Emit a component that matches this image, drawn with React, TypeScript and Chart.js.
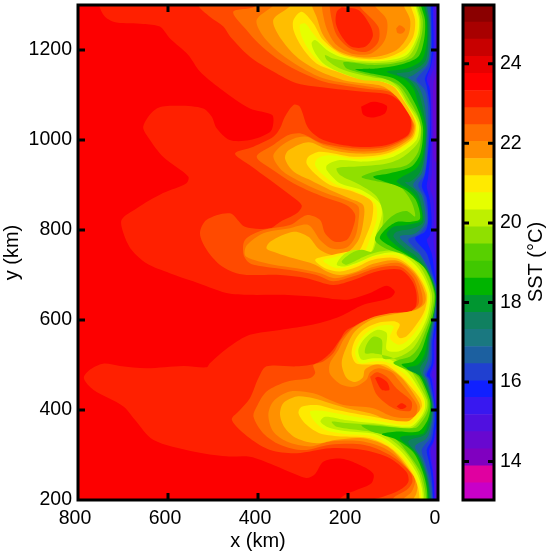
import React, { useEffect, useRef } from "react";
import { Chart, registerables } from "chart.js";

Chart.register(...registerables);

type P = number[];

const xTicksKm = { min: 0, max: 800, step: 200 };
const yTicksKm = { min: 200, max: 1300, step: 200 };

// contour outlines, [x km, y km]
const L0: P[] = [[-40,1340],[840,1340],[840,160],[-40,160]];
const C1: P[] = [[-40,1340],[753,1340],[753,1300],[740,1274],[714,1261],[655,1258],[618,1252],[596,1226],[555,1189],[529,1152],[485,1115],[418,1070],[369,1056],[366,1037],[373,1018],[418,1000],[463,1000],[492,1026],[503,1052],[522,1070],[574,1076],[625,1070],[655,1030],[640,1000],[611,963],[555,919],[559,904],[611,882],[670,848],[703,823],[699,793],[681,756],[648,726],[596,704],[544,686],[470,660],[418,656],[351,656],[277,652],[203,645],[151,660],[114,676],[96,663],[107,649],[166,634],[218,608],[277,590],[351,578],[418,567],[463,541],[507,504],[514,495],[566,498],[648,493],[707,498],[744,503],[773,490],[787,471],[766,445],[699,408],[674,379],[633,334],[544,308],[470,297],[418,296],[366,278],[314,256],[292,249],[273,258],[255,285],[218,292],[181,281],[144,259],[148,237],[181,222],[207,211],[230,190],[230,160],[-40,160]];
const C2: P[] = [[-40,1340],[533,1340],[533,1300],[507,1274],[477,1252],[462,1230],[418,1185],[366,1152],[314,1126],[240,1115],[166,1107],[107,1100],[73,1074],[62,1050],[60,1030],[68,1010],[114,989],[181,985],[255,1000],[288,1026],[307,1074],[321,1078],[340,1052],[351,1026],[366,1007],[410,985],[451,970],[418,944],[373,911],[333,881],[303,855],[314,837],[351,818],[373,804],[429,807],[462,837],[514,823],[529,793],[514,756],[485,723],[448,704],[418,700],[351,700],[292,693],[233,678],[188,689],[136,708],[85,712],[59,689],[48,660],[51,626],[77,612],[129,604],[166,593],[203,578],[218,556],[240,526],[270,504],[314,497],[381,497],[399,471],[418,426],[440,400],[458,378],[418,337],[373,311],[314,304],[240,315],[166,311],[107,293],[70,262],[66,240],[85,222],[122,207],[155,195],[160,160],[-40,160]];
const C3: P[] = [[-40,1340],[177,1340],[177,1302],[133,1252],[133,1218],[159,1196],[196,1204],[225,1233],[236,1267],[241,1302],[241,1340],[407,1340],[406,1298],[455,1285],[425,1244],[399,1215],[358,1181],[314,1155],[255,1130],[203,1120],[151,1113],[107,1107],[77,1082],[62,1055],[57,1032],[66,1009],[114,985],[181,981],[255,992],[303,1014],[332,1011],[366,989],[403,963],[366,933],[314,900],[255,874],[203,855],[184,833],[192,796],[203,778],[229,774],[251,793],[262,822],[292,833],[329,811],[388,800],[429,778],[432,745],[418,726],[388,719],[329,711],[270,700],[233,686],[188,697],[136,715],[85,719],[55,693],[44,660],[44,634],[70,615],[114,612],[166,597],[196,578],[218,553],[233,526],[255,508],[277,500],[273,482],[284,471],[336,463],[381,441],[403,407],[410,385],[388,348],[351,323],[299,311],[240,323],[166,323],[107,300],[62,262],[57,240],[70,222],[100,203],[115,160],[-40,160]];
const C4: P[] = [[-40,1340],[144,1340],[144,1304],[114,1267],[118,1222],[147,1193],[188,1191],[225,1211],[246,1244],[256,1281],[258,1304],[258,1340],[362,1340],[362,1304],[403,1267],[388,1230],[351,1193],[307,1163],[255,1137],[203,1126],[144,1117],[99,1107],[73,1074],[58,1045],[54,1030],[63,1007],[114,980],[181,975],[255,989],[292,1007],[321,1003],[351,985],[366,963],[344,930],[299,904],[247,881],[203,866],[177,852],[177,818],[184,785],[203,761],[236,759],[262,778],[288,811],[329,804],[388,793],[425,766],[429,744],[410,734],[366,723],[314,715],[262,704],[229,693],[188,703],[136,720],[85,726],[51,698],[36,660],[36,634],[62,619],[107,615],[151,604],[188,582],[210,556],[221,534],[240,504],[240,480],[214,456],[184,452],[159,467],[151,484],[133,493],[103,484],[88,467],[59,430],[46,408],[53,385],[99,385],[144,404],[210,411],[240,422],[277,437],[329,441],[366,419],[377,389],[366,352],[336,330],[284,319],[240,330],[166,330],[107,308],[56,256],[51,240],[59,218],[77,201],[85,160],[-40,160]];
const C5: P[] = [[-40,1340],[77,1340],[77,1302],[62,1267],[66,1233],[92,1200],[136,1185],[181,1185],[225,1200],[255,1233],[270,1274],[281,1302],[281,1340],[325,1340],[325,1302],[366,1267],[347,1222],[310,1181],[262,1152],[210,1133],[166,1126],[122,1119],[92,1096],[68,1062],[52,1032],[60,1005],[114,975],[181,970],[247,980],[288,995],[332,977],[340,959],[321,930],[284,911],[240,889],[196,870],[166,855],[166,818],[177,777],[203,748],[225,743],[247,748],[266,759],[288,785],[321,796],[373,774],[381,759],[358,749],[321,737],[273,723],[247,708],[218,700],[181,708],[144,725],[92,732],[51,704],[29,660],[29,638],[48,623],[99,613],[144,602],[184,575],[203,541],[214,504],[203,471],[184,462],[167,472],[162,490],[136,501],[99,486],[77,467],[48,426],[40,407],[51,378],[107,378],[151,393],[203,404],[240,415],[277,426],[314,430],[344,415],[351,389],[340,360],[314,337],[270,326],[225,334],[166,337],[107,315],[55,255],[46,237],[48,215],[55,200],[60,160],[-40,160]];
const C6: P[] = [[-40,1340],[62,1340],[62,1304],[51,1267],[55,1230],[77,1200],[122,1181],[173,1181],[218,1193],[255,1222],[277,1259],[303,1285],[321,1267],[321,1244],[303,1207],[270,1170],[225,1152],[181,1137],[136,1133],[99,1119],[77,1089],[57,1056],[49,1032],[57,1003],[114,970],[188,963],[262,974],[288,963],[292,948],[270,922],[240,900],[188,885],[147,863],[147,822],[162,781],[177,752],[196,752],[233,745],[273,734],[251,715],[218,708],[181,718],[144,734],[92,737],[51,708],[25,660],[29,623],[48,590],[70,564],[85,560],[92,571],[85,590],[99,597],[136,593],[166,578],[184,556],[192,526],[182,504],[151,501],[118,501],[85,478],[70,463],[40,426],[36,407],[49,389],[70,374],[144,385],[225,400],[270,411],[303,407],[310,393],[292,367],[262,348],[210,341],[151,337],[99,311],[59,263],[44,226],[40,184],[40,160],[-40,160]];
const C7: P[] = [[-40,1340],[56,1340],[56,1304],[46,1267],[49,1230],[73,1194],[122,1178],[173,1178],[218,1189],[258,1215],[281,1241],[295,1259],[307,1255],[303,1230],[284,1196],[255,1167],[210,1148],[166,1135],[129,1131],[96,1117],[73,1085],[54,1052],[46,1030],[54,1000],[107,968],[181,958],[240,966],[268,959],[273,944],[255,922],[225,900],[181,885],[140,859],[136,826],[151,781],[166,749],[192,752],[225,741],[255,732],[225,715],[184,723],[144,740],[92,743],[48,712],[22,660],[25,623],[44,582],[70,552],[88,545],[107,560],[99,586],[129,587],[159,571],[177,549],[184,526],[173,504],[144,508],[114,506],[77,482],[62,467],[34,426],[31,407],[44,385],[66,367],[144,378],[218,391],[255,398],[284,397],[277,378],[251,356],[203,346],[144,341],[92,311],[54,263],[40,226],[36,184],[36,160],[-40,160]];
const C8: P[] = [[-40,1340],[51,1340],[51,1304],[42,1267],[46,1230],[70,1189],[118,1176],[173,1176],[218,1185],[247,1200],[273,1222],[281,1215],[273,1193],[251,1167],[210,1147],[166,1133],[125,1130],[92,1115],[70,1081],[49,1048],[42,1028],[50,997],[99,963],[166,952],[221,955],[247,944],[247,933],[218,904],[170,889],[129,859],[125,833],[136,796],[151,748],[184,756],[210,745],[225,723],[207,719],[173,730],[136,745],[88,749],[44,715],[18,660],[22,615],[37,578],[62,545],[88,530],[114,534],[114,571],[136,578],[162,560],[177,534],[170,512],[144,515],[107,512],[70,486],[55,467],[31,426],[29,404],[40,382],[62,363],[144,371],[207,378],[251,385],[261,374],[240,360],[196,352],[136,345],[85,311],[49,263],[36,226],[33,184],[33,160],[-40,160]];
const C9: P[] = [[-40,1340],[47,1340],[48,1304],[39,1267],[42,1230],[66,1185],[114,1172],[181,1173],[233,1181],[251,1189],[247,1178],[218,1159],[181,1147],[144,1139],[114,1135],[88,1117],[66,1081],[46,1052],[38,1028],[44,995],[77,963],[114,948],[181,941],[225,937],[218,922],[173,900],[136,874],[122,837],[125,804],[136,778],[147,752],[170,756],[192,749],[214,730],[203,723],[166,740],[129,752],[85,752],[40,719],[14,660],[18,615],[33,575],[55,538],[85,519],[122,515],[125,556],[144,563],[159,545],[162,526],[144,526],[99,515],[62,489],[48,467],[25,422],[25,404],[36,382],[59,360],[136,367],[203,371],[236,374],[225,363],[181,356],[122,345],[77,311],[44,263],[33,226],[29,184],[29,160],[-40,160]];
const C10: P[] = [[-40,1340],[44,1340],[44,1304],[34,1267],[37,1230],[55,1185],[99,1170],[151,1167],[210,1173],[203,1159],[166,1148],[122,1137],[85,1120],[59,1081],[44,1052],[37,1022],[44,974],[70,944],[129,933],[170,918],[129,907],[85,896],[59,863],[51,830],[70,842],[99,833],[125,807],[140,778],[114,758],[77,746],[33,719],[9,660],[14,615],[29,571],[44,538],[62,519],[85,512],[99,504],[55,482],[40,467],[22,422],[22,400],[33,378],[51,360],[114,363],[170,366],[144,351],[99,339],[70,308],[39,263],[29,226],[25,184],[25,160],[-40,160]];
const C12: P[] = [[-40,1340],[40,1340],[39,1304],[29,1267],[31,1222],[44,1185],[85,1167],[136,1159],[184,1157],[144,1147],[99,1137],[73,1117],[51,1081],[39,1052],[33,1022],[39,971],[59,941],[107,926],[144,918],[99,901],[70,888],[49,866],[40,825],[62,818],[92,818],[118,800],[129,781],[99,760],[70,745],[29,715],[7,660],[10,615],[25,567],[36,534],[55,508],[81,501],[44,478],[36,467],[18,422],[18,396],[25,374],[44,352],[92,352],[125,346],[92,334],[55,306],[34,263],[25,226],[23,184],[23,160],[-40,160]];
const C13: P[] = [[-40,1340],[33,1340],[33,1304],[25,1267],[25,1218],[36,1178],[70,1159],[114,1152],[77,1137],[55,1115],[44,1081],[34,1052],[29,1022],[34,966],[48,937],[85,915],[92,907],[62,888],[44,866],[36,822],[70,811],[99,807],[114,789],[85,759],[62,744],[25,712],[5,660],[9,615],[22,564],[29,526],[44,501],[70,493],[36,475],[33,467],[16,419],[16,396],[22,371],[33,348],[77,342],[85,337],[49,304],[31,263],[23,226],[20,184],[20,160],[-40,160]];
const C14: P[] = [[-40,1340],[29,1340],[29,1304],[22,1267],[22,1215],[29,1174],[62,1152],[92,1147],[62,1133],[44,1107],[36,1081],[30,1052],[25,1022],[31,963],[40,929],[62,907],[73,906],[48,885],[39,863],[33,818],[55,804],[92,796],[99,785],[70,756],[51,744],[22,708],[5,660],[9,615],[20,560],[25,519],[40,493],[33,471],[29,467],[14,419],[14,393],[18,367],[29,345],[66,330],[44,300],[28,263],[20,226],[18,184],[18,160],[-40,160]];
const C16: P[] = [[-40,1340],[25,1340],[25,1304],[18,1259],[18,1211],[25,1170],[55,1144],[66,1139],[48,1126],[36,1104],[29,1074],[25,1022],[29,959],[36,926],[55,900],[36,876],[29,818],[51,792],[85,785],[55,756],[40,744],[18,704],[3,660],[7,615],[18,556],[22,512],[33,482],[25,467],[12,415],[12,389],[16,363],[25,337],[51,319],[36,293],[24,256],[18,226],[14,184],[14,160],[-40,160]];
const C17: P[] = [[-40,1340],[18,1340],[18,1304],[16,1259],[16,1207],[22,1167],[44,1141],[48,1133],[29,1111],[22,1074],[22,1022],[25,955],[31,922],[44,900],[31,874],[24,818],[40,793],[66,778],[40,748],[14,700],[2,660],[5,615],[15,556],[18,504],[29,478],[22,467],[10,411],[10,385],[13,360],[18,337],[36,311],[29,285],[20,256],[14,226],[12,184],[12,160],[-40,160]];
const C18: P[] = [[-40,1340],[14,1340],[15,1304],[14,1200],[18,1163],[29,1137],[25,1119],[18,1074],[18,1022],[24,955],[29,922],[36,898],[25,870],[22,818],[29,796],[51,781],[25,748],[10,696],[-1,660],[3,615],[12,556],[14,504],[25,478],[18,467],[8,411],[7,382],[10,356],[14,334],[25,311],[20,285],[14,249],[10,184],[10,160],[-40,160]];
const C19: P[] = [[-40,1340],[10,1340],[12,1304],[10,1200],[16,1163],[25,1135],[18,1111],[16,1022],[18,959],[22,918],[25,896],[18,866],[14,818],[18,789],[25,778],[14,748],[5,689],[-4,660],[-4,615],[9,556],[10,504],[18,478],[14,467],[6,411],[0,382],[7,352],[10,330],[20,311],[16,285],[10,249],[8,184],[8,160],[-40,160]];
const C20: P[] = [[-40,1340],[8,1340],[9,1304],[6,1215],[9,1163],[19,1133],[16,1104],[13,1022],[14,959],[14,922],[18,896],[10,866],[9,818],[10,781],[7,748],[-1,711],[-10,660],[-10,615],[5,556],[7,504],[14,478],[10,467],[3,411],[-10,382],[3,352],[9,330],[16,311],[13,285],[9,241],[6,184],[6,160],[-40,160]];
const C21a: P[] = [[-40,1190],[-4,1163],[10,1126],[10,1022],[9,959],[-4,937],[-4,892],[3,855],[-1,811],[-10,760],[-40,760]];
const C21b: P[] = [[-40,370],[-4,367],[5,307],[5,184],[5,160],[-40,160]];

// warm cores and small closed patches
const coreUpperEddy: P[] = [[214,1295],[177,1289],[151,1255],[145,1230],[162,1207],[192,1207],[214,1230],[227,1259],[225,1285],[214,1295]];
const spotTopRight: P[] = [[93,1248],[85,1255],[73,1246],[79,1237],[90,1238],[93,1248]];
const coreWarmLobe: P[] = [[171,1074],[144,1085],[114,1076],[118,1059],[147,1050],[166,1056],[171,1074]];
const ringLowerEddy: P[] = [[151,474],[136,434],[99,404],[62,398],[59,419],[92,448],[114,474],[136,484],[151,474]];
const coreLowerA: P[] = [[140,471],[125,445],[108,445],[114,463],[133,474],[140,471]];
const coreLowerB: P[] = [[92,408],[81,415],[70,408],[81,402],[92,408]];

// colour bar: edges and colours of its 29 bands, bottom to top
const barEdges = [13.03,13.46,13.89,14.32,14.75,15.18,15.61,16.03,16.46,16.89,17.32,17.75,18.18,18.61,19.04,19.47,19.9,20.33,20.76,21.19,21.62,22.05,22.47,22.9,23.33,23.76,24.19,24.62,25.05,25.48];
const barColors = ["#C800C8","#E000A0","#8000C0","#6808D0","#5010E0","#3818F0","#1020FF","#2040D0","#1C60A0","#1A7880","#108060","#009630","#00B400","#40C800","#58D000","#90E000","#BEF000","#E6FF00","#FFEA00","#FFBE00","#FF9000","#FF7000","#FF4A00","#FF2000","#FF0000","#E80000","#C80000","#A80000","#8B0000"];

// paint order, back to front
const layers: [P[], string][] = [
  [L0, "#FD0000"],
  [C1, "#FF2000"],
  [C2, "#FF4A00"],
  [C3, "#FF7000"],
  [C4, "#FF9000"],
  [C5, "#FFBE00"],
  [C6, "#FFEA00"],
  [C7, "#E6FF00"],
  [C8, "#BEF000"],
  [C9, "#90E000"],
  [C10, "#58D000"],
  [C12, "#00B400"],
  [C13, "#009630"],
  [C14, "#108060"],
  [C16, "#1C60A0"],
  [C17, "#2040D0"],
  [C18, "#1020FF"],
  [C19, "#3818F0"],
  [C20, "#5010E0"],
  [C21a, "#6808D0"],
  [C21b, "#6808D0"],
  [coreUpperEddy, "#FF2000"],
  [spotTopRight, "#FF7000"],
  [coreWarmLobe, "#FD0000"],
  [ringLowerEddy, "#FF4A00"],
  [coreLowerA, "#FF2000"],
  [coreLowerB, "#FF2000"],
];

const FONT = "'Liberation Sans', Arial, sans-serif";

const framePlugin = {
  id: "frame",
  afterDraw(chart: any, _a: any, opts: any) {
    const { ctx, chartArea: a, scales } = chart;
    ctx.save();
    ctx.strokeStyle = "#000";
    ctx.lineWidth = 3;
    ctx.strokeRect(a.left, a.top, a.right - a.left, a.bottom - a.top);
    const len = opts.tick;
    if (scales.x && opts.xTicks) {
      for (const t of scales.x.ticks) {
        const p = scales.x.getPixelForValue(t.value);
        if (p <= a.left + 2 || p >= a.right - 2) continue;
        ctx.beginPath();
        ctx.moveTo(p, a.bottom); ctx.lineTo(p, a.bottom - len);
        ctx.moveTo(p, a.top); ctx.lineTo(p, a.top + len);
        ctx.stroke();
      }
    }
    for (const t of scales.y.ticks) {
      const p = scales.y.getPixelForValue(t.value);
      if (p <= a.top + 2 || p >= a.bottom - 2) continue;
      ctx.beginPath();
      ctx.moveTo(a.left, p); ctx.lineTo(a.left + len, p);
      ctx.moveTo(a.right, p); ctx.lineTo(a.right - len, p);
      ctx.stroke();
    }
    if (opts.sideTitle) {
      ctx.fillStyle = "#000";
      ctx.font = `20px ${FONT}`;
      ctx.textAlign = "center";
      ctx.textBaseline = "middle";
      ctx.translate(opts.sideX, opts.sideY);
      ctx.rotate(-Math.PI / 2);
      ctx.fillText(opts.sideTitle, 0, 0);
    }
    ctx.restore();
  },
};

export default function App() {
  const mainRef = useRef<HTMLCanvasElement>(null);
  const barRef = useRef<HTMLCanvasElement>(null);

  useEffect(() => {
    const main = new Chart(mainRef.current!, {
      type: "scatter",
      data: {
        datasets: layers.slice().reverse().map(([pts, color]) => ({
          data: pts.map(([x, y]) => ({ x, y })),
          showLine: true,
          fill: "shape",
          backgroundColor: color,
          borderWidth: 0,
          pointRadius: 0,
          pointHoverRadius: 0,
          tension: 0.3,
          capBezierPoints: false,
        })),
      },
      options: {
        responsive: false,
        animation: false,
        events: [],
        layout: { padding: { left: 0, right: 7, top: 5, bottom: 0 } },
        plugins: {
          legend: { display: false },
          tooltip: { enabled: false },
          frame: { tick: 7, xTicks: true },
        } as any,
        scales: {
          x: {
            type: "linear",
            reverse: true,
            min: xTicksKm.min,
            max: xTicksKm.max,
            afterFit(s: any) { s.height = 53; s.paddingLeft = 0; s.paddingRight = 0; },
            grid: { display: false, drawTicks: false },
            border: { display: false },
            ticks: {
              stepSize: xTicksKm.step,
              includeBounds: false,
              autoSkip: false,
              maxRotation: 0,
              padding: 7,
              labelOffset: -3,
              color: "#000",
              font: { family: FONT, size: 19.5 },
              callback: (v: any) => String(v),
            },
            title: { display: true, text: "x (km)", color: "#000", font: { family: FONT, size: 20 }, padding: { top: 0, bottom: 0 } },
          },
          y: {
            type: "linear",
            min: yTicksKm.min,
            max: yTicksKm.max,
            afterFit(s: any) { s.width = 78; s.paddingTop = 0; s.paddingBottom = 0; },
            grid: { display: false, drawTicks: false },
            border: { display: false },
            ticks: {
              stepSize: yTicksKm.step,
              includeBounds: false,
              autoSkip: false,
              padding: 6,
              color: "#000",
              font: { family: FONT, size: 19.5 },
              callback: (v: any) => String(v),
            },
            title: { display: true, text: "y (km)", color: "#000", font: { family: FONT, size: 20 }, padding: { top: 0, bottom: 0 } },
          },
        },
      },
      plugins: [framePlugin],
    } as any);

    const bar = new Chart(barRef.current!, {
      type: "bar",
      data: {
        labels: ["SST"],
        datasets: barColors.map((color, i) => ({
          data: [[barEdges[i], barEdges[i + 1]]],
          backgroundColor: color,
          borderWidth: 0,
          barPercentage: 1,
          categoryPercentage: 1,
          grouped: false,
        })),
      } as any,
      options: {
        responsive: false,
        animation: false,
        events: [],
        layout: { padding: { left: 18, right: 0, top: 5, bottom: 53 } },
        plugins: {
          legend: { display: false },
          tooltip: { enabled: false },
          frame: { tick: 6, xTicks: false, sideTitle: "SST (°C)", sideX: 91, sideY: 262 },
        } as any,
        scales: {
          x: { display: false },
          y: {
            position: "right",
            min: barEdges[0],
            max: barEdges[barEdges.length - 1],
            afterFit(s: any) { s.width = 57; s.paddingTop = 0; s.paddingBottom = 0; },
            grid: { display: false, drawTicks: false },
            border: { display: false },
            ticks: {
              stepSize: 2,
              includeBounds: false,
              padding: 6,
              color: "#000",
              font: { family: FONT, size: 19.5 },
              callback: (v: any) => String(v),
            },
          },
        },
      },
      plugins: [framePlugin],
    } as any);

    return () => {
      main.destroy();
      bar.destroy();
    };
  }, []);

  return (
    <div style={{ position: "absolute", left: 0, top: 0, width: 551, height: 553, background: "#fff" }}>
      <canvas ref={mainRef} width={445} height={553} style={{ position: "absolute", left: 0, top: 0 }} />
      <canvas ref={barRef} width={106} height={553} style={{ position: "absolute", left: 445, top: 0 }} />
    </div>
  );
}
